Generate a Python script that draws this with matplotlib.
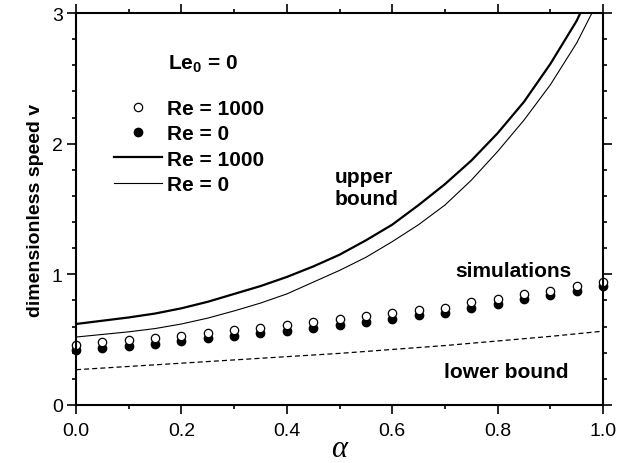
import matplotlib
matplotlib.use("Agg")
from matplotlib import pyplot as plt
from matplotlib.ticker import MultipleLocator, FormatStrFormatter
from matplotlib.lines import Line2D

plt.rcParams['font.family'] = ['Liberation Sans', 'DejaVu Sans']
plt.rcParams['mathtext.fontset'] = 'custom'
plt.rcParams['mathtext.rm'] = 'Liberation Sans:bold'

# simulation points (alpha steps of 0.05)
alpha_sim = [0.0, 0.05, 0.1, 0.15, 0.2, 0.25, 0.3, 0.35, 0.4, 0.45, 0.5,
             0.55, 0.6, 0.65, 0.7, 0.75, 0.8, 0.85, 0.9, 0.95, 1.0]
v_sim_re1000 = [0.461, 0.484, 0.497, 0.515, 0.530, 0.551, 0.571, 0.591, 0.612, 0.633, 0.658,
                0.679, 0.702, 0.729, 0.745, 0.786, 0.811, 0.849, 0.875, 0.908, 0.944]
v_sim_re0 = [0.420, 0.440, 0.455, 0.470, 0.490, 0.510, 0.530, 0.550, 0.570, 0.590, 0.615,
             0.635, 0.660, 0.685, 0.705, 0.745, 0.770, 0.810, 0.840, 0.870, 0.910]

# upper bound curves
alpha_up_re1000 = [0.0, 0.05, 0.1, 0.15, 0.2, 0.25, 0.3, 0.35, 0.4, 0.45, 0.5,
                   0.55, 0.6, 0.65, 0.7, 0.75, 0.8, 0.85, 0.9, 0.95, 0.957]
v_up_re1000 = [0.62, 0.645, 0.67, 0.70, 0.74, 0.79, 0.85, 0.91, 0.98, 1.06, 1.15,
               1.26, 1.38, 1.53, 1.69, 1.87, 2.08, 2.32, 2.61, 2.94, 3.0]
alpha_up_re0 = [0.0, 0.05, 0.1, 0.15, 0.2, 0.25, 0.3, 0.35, 0.4, 0.45, 0.5,
                0.55, 0.6, 0.65, 0.7, 0.75, 0.8, 0.85, 0.9, 0.95, 0.979]
v_up_re0 = [0.52, 0.54, 0.56, 0.585, 0.62, 0.665, 0.72, 0.78, 0.85, 0.94, 1.03,
            1.13, 1.25, 1.38, 1.53, 1.72, 1.94, 2.18, 2.45, 2.77, 3.0]

# lower bound
alpha_low = [0.0, 0.1, 0.2, 0.3, 0.4, 0.5, 0.6, 0.7, 0.8, 0.9, 1.0]
v_low = [0.27, 0.295, 0.32, 0.345, 0.37, 0.395, 0.425, 0.455, 0.49, 0.525, 0.565]

fig = plt.figure(figsize=(6.25, 4.64), dpi=100)
ax = fig.add_axes([0.1216, 0.125, 0.8432, 0.8448])

ax.plot(alpha_low, v_low, color='black', lw=0.9, linestyle=(0, (4, 2.5)))
ax.plot(alpha_up_re1000, v_up_re1000, color='black', lw=1.6)
ax.plot(alpha_up_re0, v_up_re0, color='black', lw=0.8)
ax.plot(alpha_sim, v_sim_re0, 'o', color='black', ms=6, mec='black', clip_on=False)
ax.plot(alpha_sim, v_sim_re1000, 'o', color='white', ms=6, mec='black', mew=0.9, clip_on=False)

ax.set_xlim(0, 1)
ax.set_ylim(0, 3)

# ticks outward on every side
ax.xaxis.set_major_locator(MultipleLocator(0.2))
ax.xaxis.set_minor_locator(MultipleLocator(0.1))
ax.xaxis.set_major_formatter(FormatStrFormatter('%.1f'))
ax.yaxis.set_major_locator(MultipleLocator(1))
ax.yaxis.set_minor_locator(MultipleLocator(0.2))
ax.tick_params(which='both', direction='out', top=True, right=True, width=1.2, labelsize=14)
ax.tick_params(which='major', length=6.5)
ax.tick_params(which='minor', length=3.2)
ax.tick_params(axis='x', pad=5.5)
ax.tick_params(axis='y', pad=3)
for s in ax.spines.values():
    s.set_linewidth(1.5)

ax.set_xlabel('α', family='Liberation Serif', style='italic', fontsize=22, labelpad=-3)
ax.set_ylabel('dimensionless speed v', fontsize=14, fontweight='bold', labelpad=6)

# legend
handles = [
    Line2D([], [], marker='o', ls='none', color='white', mec='black', ms=6, mew=0.9),
    Line2D([], [], marker='o', ls='none', color='black', ms=6),
    Line2D([], [], color='black', lw=1.6),
    Line2D([], [], color='black', lw=0.8),
]
labels = ['Re = 1000', 'Re = 0', 'Re = 1000', 'Re = 0']
leg = ax.legend(handles, labels, loc='upper left', bbox_to_anchor=(0.072, 0.78),
                frameon=False, borderpad=0, borderaxespad=0, handlelength=2.3,
                handletextpad=0.25, labelspacing=0.3,
                prop={'family': 'Liberation Sans', 'weight': 'bold', 'size': 15})

ax.text(0.174, 2.577, r'Le$_{0}$ = 0', fontsize=15, fontweight='bold', ha='left', va='baseline')
ax.text(0.491, 1.82, 'upper\nbound', fontsize=15, fontweight='bold', ha='left', va='top')
ax.text(0.831, 0.987, 'simulations', fontsize=15, fontweight='bold', ha='center', va='baseline')
ax.text(0.816, 0.212, 'lower bound', fontsize=15, fontweight='bold', ha='center', va='baseline')

fig.savefig('out.png', dpi=100)
